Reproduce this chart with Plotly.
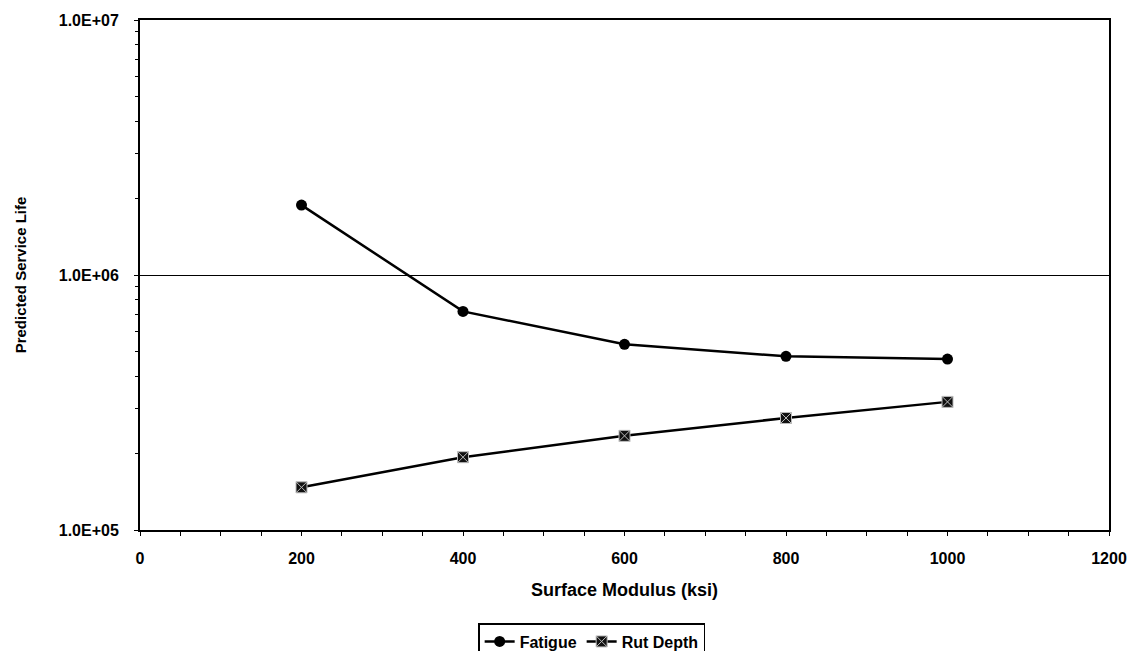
import plotly.graph_objects as go

modulus = [200, 400, 600, 800, 1000]
fatigue = [1.88e6, 7.2e5, 5.35e5, 4.8e5, 4.68e5]
rut_depth = [1.47e5, 1.93e5, 2.34e5, 2.75e5, 3.18e5]

y_tickvals = [1e5, 1e6, 1e7]
y_ticktext = ["1.0E+05", "1.0E+06", "1.0E+07"]
x_tickvals = [0, 200, 400, 600, 800, 1000, 1200]

FONT = "Liberation Sans"

fig = go.Figure()
fig.add_trace(go.Scatter(
    x=modulus, y=fatigue, name="Fatigue", mode="lines+markers",
    line=dict(color="black", width=2.5),
    marker=dict(symbol="circle", size=11, color="black"),
))
fig.add_trace(go.Scatter(
    x=modulus, y=rut_depth, name="Rut Depth", mode="lines+markers",
    line=dict(color="black", width=2.5),
    marker=dict(symbol="square-x", size=11, color="#111111",
                line=dict(color="#bbbbbb", width=1)),
))

fig.update_layout(
    width=1140, height=651,
    margin=dict(l=140, r=31, t=20, b=121),
    paper_bgcolor="white", plot_bgcolor="white",
    font=dict(family=FONT, color="black"),
    showlegend=True,
    legend=dict(
        orientation="h", xref="container", x=0.519, xanchor="center",
        yref="container", y=0.043, yanchor="top",
        bordercolor="black", borderwidth=1.5,
        font=dict(family=FONT, size=16, weight="bold"),
        itemwidth=30, tracegroupgap=0,
    ),
    xaxis=dict(
        range=[0, 1200], tickvals=x_tickvals,
        showline=True, linecolor="black", linewidth=2, mirror=True,
        showgrid=False, zeroline=False,
        ticks="outside", ticklen=4, tickcolor="black",
        minor=dict(dtick=50, ticks="outside", ticklen=4, tickcolor="black", showgrid=False),
        tickfont=dict(family=FONT, size=16, weight="bold"),
        ticklabelstandoff=9,
        title=dict(text="Surface Modulus (ksi)", standoff=17,
                   font=dict(family=FONT, size=18, weight="bold")),
    ),
    yaxis=dict(
        type="log", range=[5, 7], tickvals=y_tickvals, ticktext=y_ticktext,
        showline=True, linecolor="black", linewidth=2, mirror=True,
        showgrid=True, gridcolor="black", gridwidth=1, zeroline=False,
        ticks="outside", ticklen=4, tickcolor="black",
        minor=dict(dtick="D1", ticks="outside", ticklen=3, tickcolor="black", showgrid=False),
        tickfont=dict(family=FONT, size=16, weight="bold"),
        ticklabelstandoff=12,
        title=dict(text="Predicted Service Life", standoff=28,
                   font=dict(family=FONT, size=15, weight="bold")),
    ),
)

fig.write_html("out.html", config={"displayModeBar": False},
               post_script="document.body.style.margin='0';")
